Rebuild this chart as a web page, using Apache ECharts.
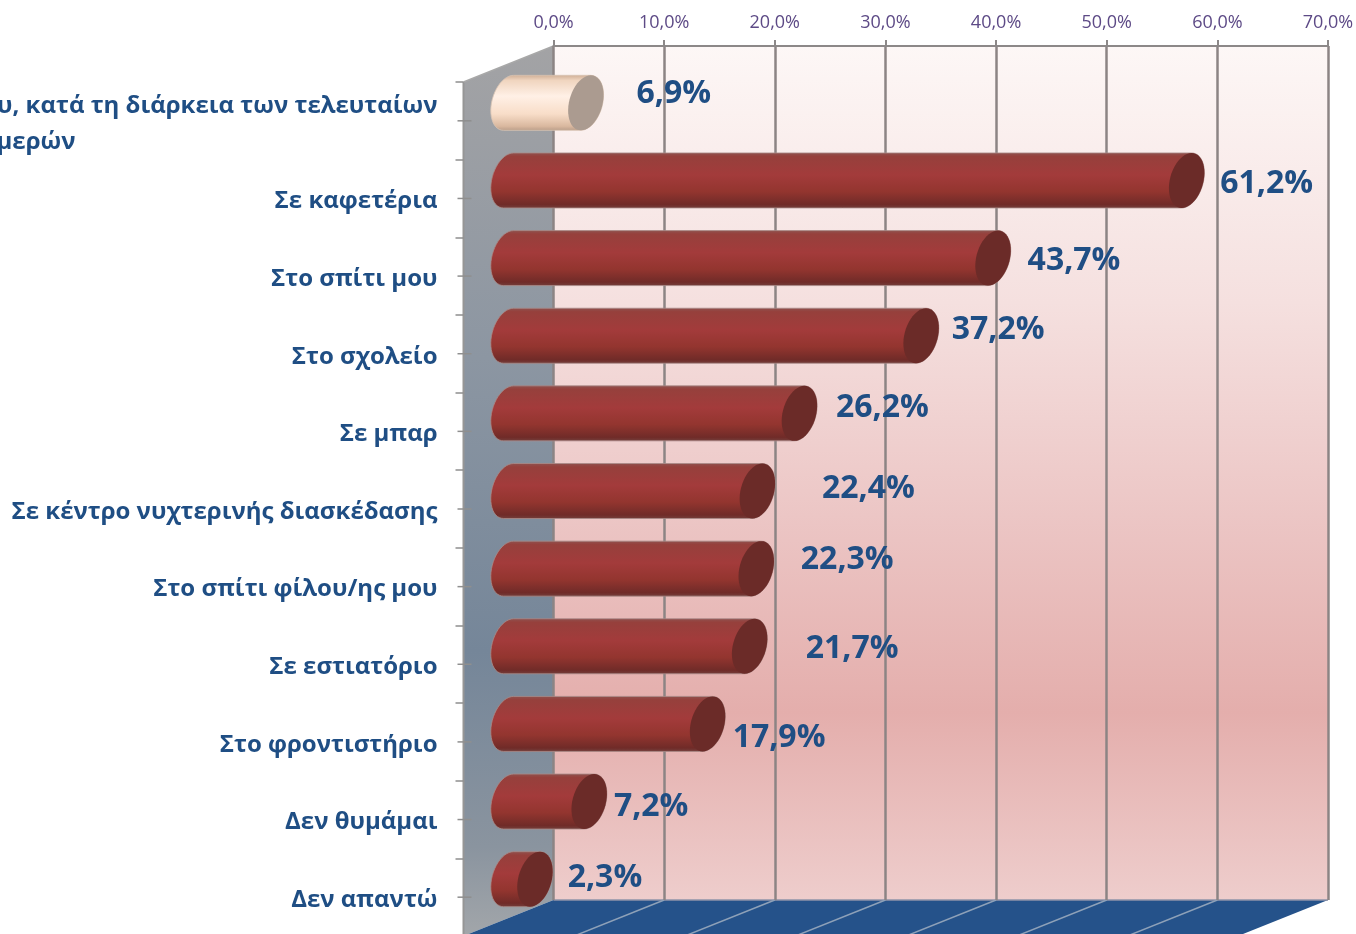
<!DOCTYPE html>
<html><head><meta charset="utf-8">
<style>html,body{margin:0;padding:0;background:#fff;overflow:hidden}#c{width:1356px;height:934px}</style>
<script src="https://cdn.jsdelivr.net/npm/echarts@6/dist/echarts.min.js"></script>
</head><body><div id="c"></div>
<script>
const categories = [
  "υ, κατά τη διάρκεια των τελευταίων\nμερών",
  "Σε καφετέρια","Στο σπίτι μου","Στο σχολείο","Σε μπαρ",
  "Σε κέντρο νυχτερινής διασκέδασης","Στο σπίτι φίλου/ης μου","Σε εστιατόριο",
  "Στο φροντιστήριο","Δεν θυμάμαι","Δεν απαντώ"
];
const values = [6.9,61.2,43.7,37.2,26.2,22.4,22.3,21.7,17.9,7.2,2.3];
const axisMax = 70, axisStep = 10;

const FONT = '"Open Sans","Noto Sans",sans-serif';
const DEPTH_X = 90, DEPTH_Y = 36;
const labelNudge = [[88,-9],[80,3],[81,3],[77,-5.5],[83,-5],[111,-2],[91,-9],[102.5,3],[71.5,14],[62,5],[70,-1]];
const G = echarts.graphic;
const vgrad = stops => new G.LinearGradient(0,0,0,1,stops.map(([o,c])=>({offset:o,color:c})));
const fmt = v => v.toFixed(1).replace('.',',')+'%';

function arc(cx,cy,t0,t1,A,K,B,n){
  const p=[];
  for(let i=0;i<=n;i++){const t=(t0+(t1-t0)*i/n)*Math.PI/180;
    p.push([cx+A*Math.cos(t)+K*Math.sin(t), cy-B*Math.sin(t)]);}
  return p;
}

function renderWalls(params, api){
  const r = params.coordSys;
  const L=r.x,R=r.x+r.width,T=r.y,B=r.y+r.height;
  const children=[
    {type:'polygon',shape:{points:[[L,T],[L-DEPTH_X,T+DEPTH_Y],[L-DEPTH_X,B+DEPTH_Y],[L,B]]},
     style:{fill:vgrad([[0,'#a3a3a5'],[0.35,'#8c96a2'],[0.68,'#758699'],[0.9,'#8a949f'],[1,'#a2a6aa']])}},
    {type:'rect',shape:{x:L,y:T,width:r.width,height:r.height},
     style:{fill:vgrad([[0,'#fdf7f6'],[0.3,'#f5e0df'],[0.55,'#ecc6c5'],[0.78,'#e4aeac'],[1,'#eecdcc']])}},
    {type:'polygon',shape:{points:[[L,B],[R,B],[R-DEPTH_X,B+DEPTH_Y],[L-DEPTH_X,B+DEPTH_Y]]},
     style:{fill:'#25528a'}},
    {type:'line',shape:{x1:L-DEPTH_X,y1:T+DEPTH_Y,x2:L-DEPTH_X,y2:B+DEPTH_Y},style:{stroke:'#969696',lineWidth:2}},
    {type:'line',shape:{x1:L-DEPTH_X,y1:T+DEPTH_Y,x2:L,y2:T},style:{stroke:'#a8a8a8',lineWidth:1.5}},
    {type:'line',shape:{x1:L,y1:B,x2:R,y2:B},style:{stroke:'#8f93a8',lineWidth:1.5}}
  ];
  for(let t=axisStep;t<axisMax;t+=axisStep){
    const x=api.coord([t,0])[0];
    children.push({type:'line',shape:{x1:x,y1:B,x2:x-DEPTH_X,y2:B+DEPTH_Y},style:{stroke:'#8ea1b8',lineWidth:1.5}});
  }
  // short marks at the band centres of the side wall
  const band=r.height/categories.length;
  for(let i=0;i<categories.length;i++){
    const y=T+DEPTH_Y+band*(i+0.5);
    children.push({type:'line',shape:{x1:L-DEPTH_X-6,y1:y,x2:L-DEPTH_X+8,y2:y},style:{stroke:'#8f8f8f',lineWidth:1.5}});
  }
  return {type:'group',children};
}

function renderBar(params, api){
  const i=api.value(1), v=api.value(0);
  const a=api.coord([0,i]), b=api.coord([v,i]);
  const dx=DEPTH_X/2, dy=-DEPTH_Y/2;
  const y=a[1]+dy, x0=a[0]+dx, x1=b[0]+dx+1;
  const A=17,K=5,Br=27.5;
  const body=[...arc(x0,y,90,270,A,K,Br,24),...arc(x1,y,-90,90,A,K,Br,24)];
  const cap=arc(x1,y,0,360,A,K,Br,48);
  const light=i===0;
  const bodyFill = light
    ? vgrad([[0,'#cfae96'],[0.1,'#f0d5bf'],[0.38,'#fff0e6'],[0.7,'#f8ddc8'],[0.92,'#d9b89f'],[1,'#b89c88']])
    : vgrad([[0,'#8f5350'],[0.07,'#96403c'],[0.4,'#a33b3b'],[0.7,'#93352f'],[0.93,'#702b28'],[1,'#74403d']]);
  const n=labelNudge[i];
  return {type:'group',children:[
    {type:'polygon',shape:{points:body},style:{fill:bodyFill,stroke:light?'#d8c4b4':'#a98a88',lineWidth:0.8}},
    {type:'polygon',shape:{points:cap},style:{fill:light?'#ab9b90':'#6b2b28'}},
    {type:'text',z2:5,style:{x:x1+n[0],y:y+n[1],text:fmt(v),align:'center',verticalAlign:'middle',
      fill:'#1f4e84',font:'bold 32px '+FONT}}
  ]};
}

const chart=echarts.init(document.getElementById('c'),null,{renderer:'canvas',width:1356,height:934});
chart.setOption({
  animation:false,
  backgroundColor:'#ffffff',
  grid:[
    {left:553.5,top:46,width:774.5,height:854,outerBoundsMode:'none',containLabel:false},
    {left:553.5-DEPTH_X,top:46+DEPTH_Y,width:774.5,height:854,outerBoundsMode:'none',containLabel:false}
  ],
  xAxis:[
    {gridIndex:0,type:'value',position:'top',min:0,max:axisMax,interval:axisStep,z:3,
     axisLine:{show:true,onZero:false,lineStyle:{color:'#8c8888',width:2}},
     axisTick:{show:true,length:6,lineStyle:{color:'#8c8888',width:2}},
     splitLine:{show:true,lineStyle:{color:'#8c8484',width:2.5}},
     axisLabel:{show:true,margin:14,color:'#5d4a86',fontFamily:FONT,fontSize:18,formatter:v=>fmt(v),hideOverlap:false,showMinLabel:true,showMaxLabel:true}},
    {gridIndex:1,type:'value',min:0,max:axisMax,interval:axisStep,show:false}
  ],
  yAxis:[
    {gridIndex:0,type:'category',inverse:true,data:categories,show:false},
    {gridIndex:1,type:'category',inverse:true,data:categories,z:4,
     axisLine:{show:false},
     axisTick:{show:true,length:8,lineStyle:{color:'#8f8f8f',width:1.5}},
     splitLine:{show:false},
     axisLabel:{show:true,interval:0,margin:26,padding:[6,0,0,0],color:'#1f4e84',fontFamily:FONT,fontWeight:'bold',fontSize:24,lineHeight:36,
       formatter:(s,i)=>{
         if(i!==0) return s;
         const [l1,l2]=s.split('\n');
         return '{a|'+l1+'}\n{b|'+l2+'}';
       },
       rich:{
         a:{color:'#1f4e84',fontFamily:FONT,fontWeight:'bold',fontSize:24,lineHeight:36,align:'right'},
         b:{color:'#1f4e84',fontFamily:FONT,fontWeight:'bold',fontSize:24,lineHeight:36,align:'right',padding:[0,362,0,0]}
       }}}
  ],
  series:[
    {type:'custom',xAxisIndex:0,yAxisIndex:0,z:1,silent:true,data:[[0,0]],renderItem:renderWalls},
    {type:'custom',xAxisIndex:1,yAxisIndex:1,z:6,silent:true,encode:{x:0,y:1},
     data:values.map((v,i)=>[v,i]),renderItem:renderBar}
  ]
});
</script></body></html>
